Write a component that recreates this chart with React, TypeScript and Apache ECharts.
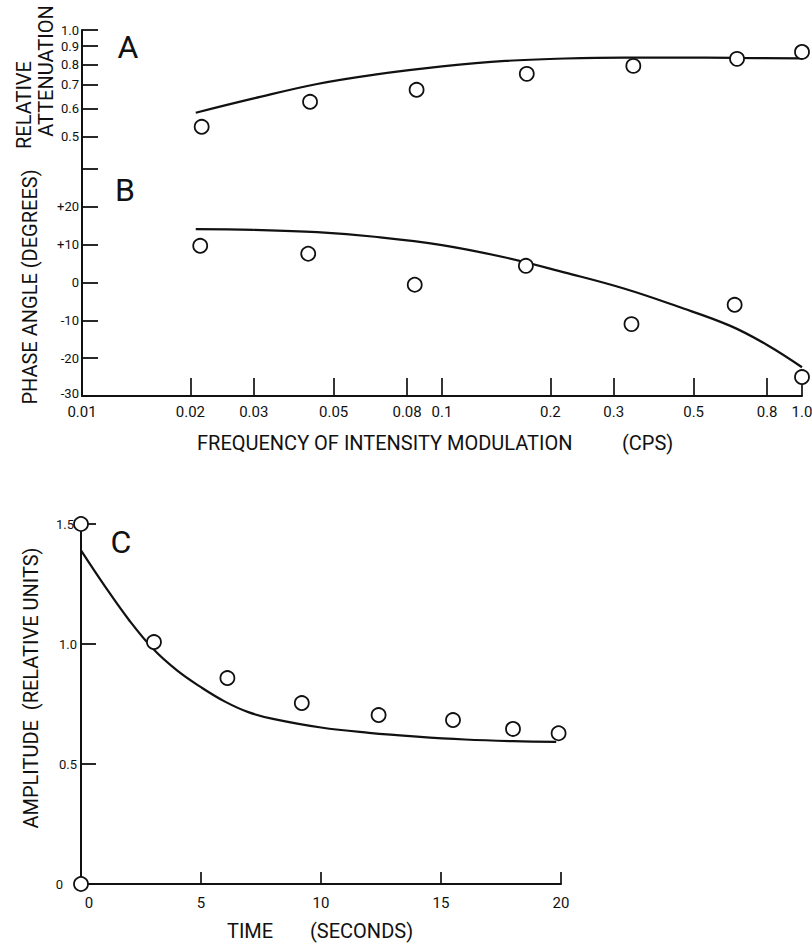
import React, { useEffect, useRef } from "react";
import * as echarts from "echarts";

// Panel A: relative attenuation vs frequency (log-log)
const freqA = [0.0215, 0.043, 0.085, 0.172, 0.34, 0.66, 1.0];
const attenA = [0.533, 0.627, 0.678, 0.752, 0.792, 0.829, 0.867];
const curveAFreq = [0.0207, 0.03, 0.045, 0.065, 0.1, 0.15, 0.22, 0.32, 0.45, 0.65, 1.0];
const curveAVal = [0.584, 0.641, 0.704, 0.748, 0.789, 0.818, 0.831, 0.836, 0.836, 0.834, 0.832];

// Panel B: phase angle vs frequency
const freqB = [0.0213, 0.0425, 0.084, 0.171, 0.336, 0.65, 1.0];
const phaseB = [9.7, 7.6, -0.6, 4.4, -11.0, -5.9, -25.0];
const curveBFreq = [0.0207, 0.03, 0.045, 0.065, 0.1, 0.15, 0.22, 0.32, 0.45, 0.63, 0.8, 1.0];
const curveBVal = [14.1, 13.9, 13.3, 12.1, 9.9, 6.6, 2.6, -1.6, -6.3, -11.4, -16.5, -22.4];

// Panel C: amplitude vs time
const timeC = [0, 0, 3.04, 6.1, 9.2, 12.4, 15.5, 18.0, 19.9];
const ampC = [1.5, 0, 1.008, 0.858, 0.754, 0.704, 0.683, 0.646, 0.628];
const curveCTime = [0, 1, 2, 3, 4, 5, 6, 7, 8, 10, 12, 14, 16, 18, 19.8];
const curveCVal = [1.39, 1.24, 1.1, 0.98, 0.89, 0.82, 0.76, 0.715, 0.688, 0.652, 0.63, 0.614, 0.602, 0.595, 0.592];

// Tick values / labels
const freqTickValues = [0.02, 0.03, 0.05, 0.08, 0.1, 0.2, 0.3, 0.5, 0.8, 1.0];
const freqLabelValues = [0.01, 0.02, 0.03, 0.05, 0.08, 0.1, 0.2, 0.3, 0.5, 0.8, 1.0];
const freqLabels = ["0.01", "0.02", "0.03", "0.05", "0.08", "0.1", "0.2", "0.3", "0.5", "0.8", "1.0"];
const attenTickValues = [0.5, 0.6, 0.7, 0.8, 0.9, 1.0];

const INK = "#111";
const FONT = "Roboto";

const zip = (a: number[], b: number[]) => a.map((v, i) => [v, b[i]]);

const lookupLabel = (v: number, vals: number[], labels: string[]) => {
  const i = vals.findIndex((t) => Math.abs(t - v) / t < 1e-4);
  return i >= 0 ? labels[i] : "";
};

const axisLabelStyle = { color: INK, fontFamily: FONT, fontSize: 15 };
const lineStyleAxis = { color: INK, width: 2 };

const scatterStyle = {
  type: "scatter" as const,
  symbol: "circle",
  symbolSize: 14,
  clip: false,
  itemStyle: { color: "#fff", borderColor: INK, borderWidth: 1.8, opacity: 1 },
  z: 5,
  silent: true,
};
const curveStyle = {
  type: "line" as const,
  smooth: 0.4,
  showSymbol: false,
  symbol: "none",
  lineStyle: { color: INK, width: 2.2 },
  z: 3,
  silent: true,
};

const textEl = (text: string, x: number, y: number, opts: any = {}) => ({
  type: "text",
  x,
  y,
  rotation: opts.rotation || 0,
  silent: true,
  style: {
    text,
    fill: INK,
    fontFamily: FONT,
    fontSize: opts.fontSize || 20,
    fontWeight: opts.fontWeight || "normal",
    align: opts.align || "center",
    verticalAlign: "middle",
  },
});

export default function App() {
  const ref = useRef<HTMLDivElement>(null);
  useEffect(() => {
    if (!ref.current) return;
    const chart = echarts.init(ref.current, null, { renderer: "svg" });
    const R = Math.PI / 2;
    const option: any = {
      animation: false,
      backgroundColor: "#fff",
      grid: [
        { left: 82, top: 30, width: 720, height: 141, containLabel: false, outerBoundsMode: "none" },
        { left: 82, top: 169, width: 720, height: 227, containLabel: false, outerBoundsMode: "none" },
        { left: 81, top: 524, width: 480, height: 360, containLabel: false, outerBoundsMode: "none" },
      ],
      xAxis: [
        { type: "log", logBase: 10, gridIndex: 0, min: 0.01, max: 1, show: false },
        {
          type: "log",
          logBase: 10,
          gridIndex: 1,
          min: 0.01,
          max: 1,
          position: "bottom",
          splitLine: { show: false },
          minorTick: { show: false },
          axisLine: { show: true, onZero: false, lineStyle: lineStyleAxis },
          axisTick: {
            show: true,
            inside: true,
            length: 18,
            customValues: freqTickValues,
            lineStyle: { color: INK, width: 1.7 },
          },
          axisLabel: {
            ...axisLabelStyle,
            margin: 8,
            customValues: freqLabelValues,
            formatter: (v: number) => lookupLabel(v, freqLabelValues, freqLabels),
            showMinLabel: true,
            showMaxLabel: true,
          },
        },
        {
          type: "value",
          gridIndex: 2,
          min: 0,
          max: 20,
          interval: 5,
          position: "bottom",
          splitLine: { show: false },
          axisLine: { show: true, onZero: false, lineStyle: lineStyleAxis },
          axisTick: { show: true, inside: true, length: 12, lineStyle: { color: INK, width: 1.7 } },
          axisLabel: {
            ...axisLabelStyle,
            margin: 11,
            formatter: (v: number) => (v === 0 ? "{z|0}" : String(v)),
            rich: { z: { ...axisLabelStyle, padding: [0, 0, 0, 16] } },
          },
        },
      ],
      yAxis: [
        {
          type: "log",
          logBase: 10,
          gridIndex: 0,
          min: 0.4,
          max: 1.0,
          splitLine: { show: false },
          minorTick: { show: false },
          axisLine: { show: true, onZero: false, lineStyle: lineStyleAxis },
          axisTick: {
            show: true,
            inside: true,
            length: 16,
            customValues: attenTickValues,
            lineStyle: { color: INK, width: 1.8 },
          },
          axisLabel: {
            ...axisLabelStyle,
            fontSize: 13,
            margin: 3,
            customValues: attenTickValues,
            formatter: (v: number) => v.toFixed(1),
          },
        },
        {
          type: "value",
          gridIndex: 1,
          min: -30,
          max: 30,
          interval: 10,
          splitLine: { show: false },
          axisLine: { show: true, onZero: false, lineStyle: lineStyleAxis },
          axisTick: { show: true, inside: true, length: 16, lineStyle: { color: INK, width: 1.8 } },
          axisLabel: {
            ...axisLabelStyle,
            fontSize: 13,
            margin: 3,
            formatter: (v: number) =>
              v >= 30 ? "" : v === -30 ? "{b|-30}" : v > 0 ? "+" + v : String(v),
            rich: { b: { ...axisLabelStyle, fontSize: 13, padding: [0, 0, 6, 0] } },
          },
        },
        {
          type: "value",
          gridIndex: 2,
          min: 0,
          max: 1.5,
          interval: 0.5,
          splitLine: { show: false },
          axisLine: { show: true, onZero: false, lineStyle: lineStyleAxis },
          axisTick: { show: true, inside: true, length: 15, lineStyle: { color: INK, width: 1.8 } },
          axisLabel: {
            ...axisLabelStyle,
            fontSize: 13,
            margin: 4,
            formatter: (v: number) =>
              v === 0 ? "{z|0}" : v === 1.5 ? "{t|1.5}" : v.toFixed(1),
            rich: {
              z: { ...axisLabelStyle, fontSize: 13, padding: [0, 14, 0, 0] },
              t: { ...axisLabelStyle, fontSize: 13, padding: [0, 3, 0, 0] },
            },
          },
        },
      ],
      series: [
        { ...curveStyle, xAxisIndex: 0, yAxisIndex: 0, data: zip(curveAFreq, curveAVal) },
        { ...scatterStyle, xAxisIndex: 0, yAxisIndex: 0, data: zip(freqA, attenA) },
        { ...curveStyle, xAxisIndex: 1, yAxisIndex: 1, data: zip(curveBFreq, curveBVal) },
        { ...scatterStyle, xAxisIndex: 1, yAxisIndex: 1, data: zip(freqB, phaseB) },
        { ...curveStyle, xAxisIndex: 2, yAxisIndex: 2, data: zip(curveCTime, curveCVal) },
        { ...scatterStyle, xAxisIndex: 2, yAxisIndex: 2, data: zip(timeC, ampC) },
      ],
      graphic: [
        textEl("RELATIVE", 24, 105, { rotation: R, fontSize: 20 }),
        textEl("ATTENUATION", 46, 71, { rotation: R, fontSize: 20 }),
        textEl("PHASE ANGLE (DEGREES)", 30, 287, { rotation: R, fontSize: 20 }),
        textEl("AMPLITUDE  (RELATIVE UNITS)", 31, 688, { rotation: R, fontSize: 20 }),
        textEl("FREQUENCY OF INTENSITY MODULATION", 197, 443, { align: "left", fontSize: 20 }),
        textEl("(CPS)", 622, 443, { align: "left", fontSize: 20 }),
        textEl("TIME", 227, 931, { align: "left", fontSize: 20 }),
        textEl("(SECONDS)", 310, 931, { align: "left", fontSize: 20 }),
        textEl("A", 128, 47, { fontSize: 32 }),
        textEl("B", 125, 190, { fontSize: 32 }),
        textEl("C", 121, 542, { fontSize: 32 }),
      ],
    };
    chart.setOption(option);
    return () => chart.dispose();
  }, []);
  return (
    <div
      ref={ref}
      style={{ position: "fixed", left: 0, top: 0, width: 812, height: 951, background: "#fff" }}
    />
  );
}
